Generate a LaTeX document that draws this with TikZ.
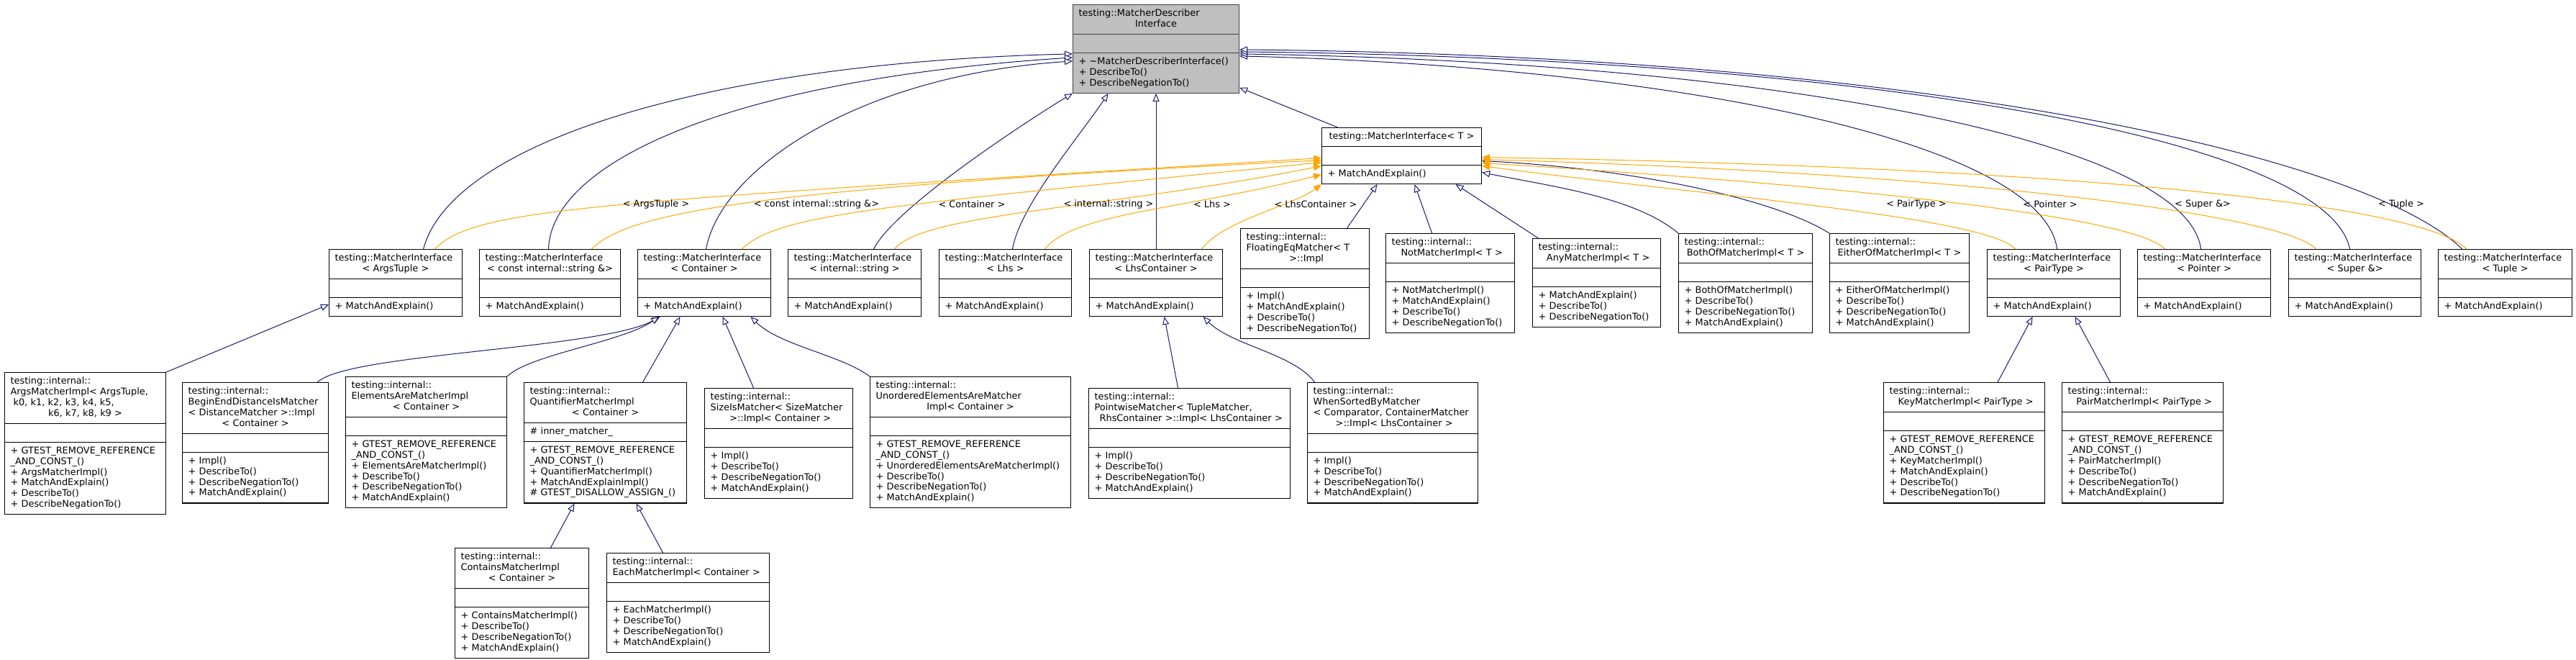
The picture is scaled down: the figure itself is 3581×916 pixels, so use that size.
\documentclass[tikz,border=0pt]{standalone}
\usepackage{fontspec}
\usepackage{xcolor}
\usepackage{tikz}
\usetikzlibrary{arrows.meta,shapes.multipart}

\newfontfamily\dxfont{DejaVu Sans}
\newcommand\clsfont{\dxfont\fontsize{12.9}{14.9}\selectfont\parindent=0pt\hyphenpenalty=10000\relax}
\newcommand\cl[1]{\makebox[\hsize]{#1}}
\definecolor{edgeblue}{RGB}{25,25,112}
\definecolor{tmplorange}{RGB}{255,165,0}
\definecolor{rootgray}{RGB}{191,191,191}
\definecolor{rootline}{RGB}{64,64,64}

\begin{document}
\begin{tikzpicture}[x=1pt, y=-1pt,
  cls/.style={rectangle split, rectangle split parts=3, draw=black,
              line width=1.1pt, fill=white, inner xsep=8pt, inner ysep=5pt,
              align=left, anchor=north west, font=\clsfont},
  rootcls/.style={cls, draw=rootline, fill=rootgray},
  inh/.style={-{Triangle[fill=white, length=11pt, width=9pt]}, draw=edgeblue,
              line width=1pt},
  tmpl/.style={-{Triangle[length=11pt, width=9pt]}, draw=tmplorange,
               line width=1pt},
  lbl/.style={font=\clsfont, inner sep=0pt},
]
  \useasboundingbox (0,0) rectangle (3581,916);

  % Base
  \node[rootcls, text width=215pt] (root) at (1491,6)
    {\strut testing::MatcherDescriber\\\cl{Interface}\strut
     \nodepart{two}\strut
     \nodepart{three}\strut + \textasciitilde MatcherDescriberInterface()\\+ DescribeTo()\\+ DescribeNegationTo()\strut};
  \node[cls, text width=206pt] (mit) at (1837,177)
    {\strut\cl{testing::MatcherInterface< T >}\strut
     \nodepart{two}\strut
     \nodepart{three}\strut + MatchAndExplain()\strut};

  % MatcherInterface instances
  \node[cls, text width=169pt] (miargs) at (457,346)
    {\strut testing::MatcherInterface\\\cl{< ArgsTuple >}\strut
     \nodepart{two}\strut \nodepart{three}\strut + MatchAndExplain()\strut};
  \node[cls, text width=180pt] (miconststr) at (666,346)
    {\strut testing::MatcherInterface\\\cl{< const internal::string \&>}\strut
     \nodepart{two}\strut \nodepart{three}\strut + MatchAndExplain()\strut};
  \node[cls, text width=169pt] (micont) at (886,346)
    {\strut testing::MatcherInterface\\\cl{< Container >}\strut
     \nodepart{two}\strut \nodepart{three}\strut + MatchAndExplain()\strut};
  \node[cls, text width=169pt] (mistr) at (1095,346)
    {\strut testing::MatcherInterface\\\cl{< internal::string >}\strut
     \nodepart{two}\strut \nodepart{three}\strut + MatchAndExplain()\strut};
  \node[cls, text width=168pt] (milhs) at (1305,346)
    {\strut testing::MatcherInterface\\\cl{< Lhs >}\strut
     \nodepart{two}\strut \nodepart{three}\strut + MatchAndExplain()\strut};
  \node[cls, text width=169pt] (milhsc) at (1514,346)
    {\strut testing::MatcherInterface\\\cl{< LhsContainer >}\strut
     \nodepart{two}\strut \nodepart{three}\strut + MatchAndExplain()\strut};
  \node[cls, text width=169pt] (mipair) at (2762,346)
    {\strut testing::MatcherInterface\\\cl{< PairType >}\strut
     \nodepart{two}\strut \nodepart{three}\strut + MatchAndExplain()\strut};
  \node[cls, text width=169pt] (miptr) at (2971,346)
    {\strut testing::MatcherInterface\\\cl{< Pointer >}\strut
     \nodepart{two}\strut \nodepart{three}\strut + MatchAndExplain()\strut};
  \node[cls, text width=168pt] (misuper) at (3181,346)
    {\strut testing::MatcherInterface\\\cl{< Super \&>}\strut
     \nodepart{two}\strut \nodepart{three}\strut + MatchAndExplain()\strut};
  \node[cls, text width=170pt] (mituple) at (3389,346)
    {\strut testing::MatcherInterface\\\cl{< Tuple >}\strut
     \nodepart{two}\strut \nodepart{three}\strut + MatchAndExplain()\strut};

  % Direct implementations
  \node[cls, text width=163pt] (floateq) at (1724,317)
    {\strut testing::internal::\\FloatingEqMatcher< T\\\cl{ >::Impl}\strut
     \nodepart{two}\strut
     \nodepart{three}\strut + Impl()\\+ MatchAndExplain()\\+ DescribeTo()\\+ DescribeNegationTo()\strut};
  \node[cls, text width=163pt] (notm) at (1926,324)
    {\strut testing::internal::\\\cl{ NotMatcherImpl< T >}\strut
     \nodepart{two}\strut
     \nodepart{three}\strut + NotMatcherImpl()\\+ MatchAndExplain()\\+ DescribeTo()\\+ DescribeNegationTo()\strut};
  \node[cls, text width=162pt] (anym) at (2130,331)
    {\strut testing::internal::\\\cl{ AnyMatcherImpl< T >}\strut
     \nodepart{two}\strut
     \nodepart{three}\strut + MatchAndExplain()\\+ DescribeTo()\\+ DescribeNegationTo()\strut};
  \node[cls, text width=170pt] (bothm) at (2333,324)
    {\strut testing::internal::\\\cl{BothOfMatcherImpl< T >}\strut
     \nodepart{two}\strut
     \nodepart{three}\strut + BothOfMatcherImpl()\\+ DescribeTo()\\+ DescribeNegationTo()\\+ MatchAndExplain()\strut};
  \node[cls, text width=178pt] (eitherm) at (2543,324)
    {\strut testing::internal::\\\cl{EitherOfMatcherImpl< T >}\strut
     \nodepart{two}\strut
     \nodepart{three}\strut + EitherOfMatcherImpl()\\+ DescribeTo()\\+ DescribeNegationTo()\\+ MatchAndExplain()\strut};

  % Lower row
  \node[cls, text width=208pt] (argsm) at (6,517)
    {\strut testing::internal::\\ArgsMatcherImpl< ArgsTuple,\\\hspace*{4pt}k0, k1, k2, k3, k4, k5,\\\cl{k6, k7, k8, k9 >}\strut
     \nodepart{two}\strut
     \nodepart{three}\strut + GTEST\_REMOVE\_REFERENCE\\\_AND\_CONST\_()\\+ ArgsMatcherImpl()\\+ MatchAndExplain()\\+ DescribeTo()\\+ DescribeNegationTo()\strut};
  \node[cls, text width=187pt] (beginend) at (253,531)
    {\strut testing::internal::\\BeginEndDistanceIsMatcher\\< DistanceMatcher >::Impl\\\cl{< Container >}\strut
     \nodepart{two}\strut
     \nodepart{three}\strut + Impl()\\+ DescribeTo()\\+ DescribeNegationTo()\\+ MatchAndExplain()\strut};
  \node[cls, text width=208pt] (elemsare) at (480,523)
    {\strut testing::internal::\\ElementsAreMatcherImpl\\\cl{< Container >}\strut
     \nodepart{two}\strut
     \nodepart{three}\strut + GTEST\_REMOVE\_REFERENCE\\\_AND\_CONST\_()\\+ ElementsAreMatcherImpl()\\+ DescribeTo()\\+ DescribeNegationTo()\\+ MatchAndExplain()\strut};
  \node[cls, text width=210pt] (quant) at (728,531)
    {\strut testing::internal::\\QuantifierMatcherImpl\\\cl{< Container >}\strut
     \nodepart{two}\strut \# inner\_matcher\_\strut
     \nodepart{three}\strut + GTEST\_REMOVE\_REFERENCE\\\_AND\_CONST\_()\\+ QuantifierMatcherImpl()\\+ MatchAndExplainImpl()\\\# GTEST\_DISALLOW\_ASSIGN\_()\strut};
  \node[cls, text width=190pt] (sizeis) at (979,539)
    {\strut testing::internal::\\SizeIsMatcher< SizeMatcher\\\cl{ >::Impl< Container >}\strut
     \nodepart{two}\strut
     \nodepart{three}\strut + Impl()\\+ DescribeTo()\\+ DescribeNegationTo()\\+ MatchAndExplain()\strut};
  \node[cls, text width=263pt] (unordered) at (1209,523)
    {\strut testing::internal::\\UnorderedElementsAreMatcher\\\cl{Impl< Container >}\strut
     \nodepart{two}\strut
     \nodepart{three}\strut + GTEST\_REMOVE\_REFERENCE\\\_AND\_CONST\_()\\+ UnorderedElementsAreMatcherImpl()\\+ DescribeTo()\\+ DescribeNegationTo()\\+ MatchAndExplain()\strut};
  \node[cls, text width=264pt] (pointwise) at (1513,539)
    {\strut testing::internal::\\PointwiseMatcher< TupleMatcher,\\\cl{ RhsContainer >::Impl< LhsContainer >}\strut
     \nodepart{two}\strut
     \nodepart{three}\strut + Impl()\\+ DescribeTo()\\+ DescribeNegationTo()\\+ MatchAndExplain()\strut};
  \node[cls, text width=221pt] (whensorted) at (1817,531)
    {\strut testing::internal::\\WhenSortedByMatcher\\< Comparator, ContainerMatcher\\\cl{ >::Impl< LhsContainer >}\strut
     \nodepart{two}\strut
     \nodepart{three}\strut + Impl()\\+ DescribeTo()\\+ DescribeNegationTo()\\+ MatchAndExplain()\strut};
  \node[cls, text width=208pt] (keym) at (2618,531)
    {\strut testing::internal::\\\cl{ KeyMatcherImpl< PairType >}\strut
     \nodepart{two}\strut
     \nodepart{three}\strut + GTEST\_REMOVE\_REFERENCE\\\_AND\_CONST\_()\\+ KeyMatcherImpl()\\+ MatchAndExplain()\\+ DescribeTo()\\+ DescribeNegationTo()\strut};
  \node[cls, text width=208pt] (pairm) at (2866,531)
    {\strut testing::internal::\\\cl{ PairMatcherImpl< PairType >}\strut
     \nodepart{two}\strut
     \nodepart{three}\strut + GTEST\_REMOVE\_REFERENCE\\\_AND\_CONST\_()\\+ PairMatcherImpl()\\+ DescribeTo()\\+ DescribeNegationTo()\\+ MatchAndExplain()\strut};

  % Quantifier subclasses
  \node[cls, text width=170pt] (contains) at (632,761)
    {\strut testing::internal::\\ContainsMatcherImpl\\\cl{< Container >}\strut
     \nodepart{two}\strut
     \nodepart{three}\strut + ContainsMatcherImpl()\\+ DescribeTo()\\+ DescribeNegationTo()\\+ MatchAndExplain()\strut};
  \node[cls, text width=210pt] (eachm) at (843,768)
    {\strut testing::internal::\\EachMatcherImpl< Container >\strut
     \nodepart{two}\strut
     \nodepart{three}\strut + EachMatcherImpl()\\+ DescribeTo()\\+ DescribeNegationTo()\\+ MatchAndExplain()\strut};

  % Inheritance to base
  \draw[inh] ([xshift=38.5pt]miargs.north) .. controls +(40,-150) and +(-500,12) .. ([yshift=-7pt]root.west);
  \draw[inh] ([xshift=-2pt]miconststr.north) .. controls +(3,-116) and +(-491,32) .. ([yshift=-12pt]root.west);
  \draw[inh] ([xshift=2.5pt]micont.north) .. controls +(20,-110) and +(-300,20) .. ([yshift=-17pt]root.west);
  \draw[inh] ([xshift=26.5pt]mistr.north) .. controls +(30,-60) and +(-50,30) .. (root.south west);
  \draw[inh] ([xshift=10pt]milhs.north) .. controls +(10,-60) and +(-40,60) .. ([xshift=-66.5pt]root.south);
  \draw[inh] (milhsc.north) -- (root.south);
  \draw[inh] ([xshift=-89pt]mit.north) -- ([yshift=8pt]root.south east);
  \draw[inh] ([xshift=4.5pt]mipair.north) .. controls +(-20,-150) and +(600,15) .. ([yshift=-10pt]root.east);
  \draw[inh] ([xshift=-4.5pt]miptr.north) .. controls +(-20,-150) and +(750,12) .. ([yshift=-7pt]root.east);
  \draw[inh] ([xshift=-7pt]misuper.north) .. controls +(-30,-150) and +(900,10) .. ([yshift=-4pt]root.east);
  \draw[inh] ([xshift=-60pt]mituple.north) .. controls +(-120,-120) and +(1000,10) .. ([yshift=-1pt]root.east);

  % Inheritance to MatcherInterface< T >
  \draw[inh] ([xshift=58.5pt]floateq.north) -- ([xshift=-34pt]mit.south);
  \draw[inh] ([xshift=-25.5pt]notm.north) -- ([xshift=18pt]mit.south);
  \draw[inh] ([xshift=-81pt]anym.north) -- ([xshift=75pt]mit.south);
  \draw[inh] (bothm.north west) .. controls +(-60,-50) and +(100,20) .. ([yshift=-23pt]mit.east);
  \draw[inh] (eitherm.north west) .. controls +(-80,-50) and +(200,10) .. ([yshift=-7pt]mit.east);

  % Inheritance to instances
  \draw[inh] (argsm.north east) -- ([yshift=-30pt]miargs.west);
  \draw[inh] ([xshift=86.5pt]beginend.north) .. controls +(40,-40) and +(-80,45) .. ([xshift=-61.5pt]micont.south);
  \draw[inh] (elemsare.north east) .. controls +(30,-30) and +(-50,35) .. ([xshift=-63pt]micont.south);
  \draw[inh] ([xshift=52pt]quant.north) -- ([xshift=-33.5pt]micont.south);
  \draw[inh] ([xshift=-35pt]sizeis.north) -- ([xshift=25.5pt]micont.south);
  \draw[inh] (unordered.north west) .. controls +(-40,-30) and +(40,40) .. ([xshift=64.5pt]micont.south);
  \draw[inh] ([xshift=-16pt]pointwise.north) -- ([xshift=11.5pt]milhsc.south);
  \draw[inh] ([xshift=-108.5pt]whensorted.north) .. controls +(-30,-40) and +(40,40) .. ([xshift=65.5pt]milhsc.south);
  \draw[inh] ([xshift=46.5pt]keym.north) -- ([xshift=-29.5pt]mipair.south);
  \draw[inh] ([xshift=-45pt]pairm.north) -- ([xshift=29.5pt]mipair.south);
  \draw[inh] ([xshift=40pt]contains.north) -- ([xshift=-43pt]quant.south);
  \draw[inh] ([xshift=-35pt]eachm.north) -- ([xshift=43pt]quant.south);

  % Template instances
  \draw[tmpl] ([xshift=54.5pt]miargs.north) .. controls +(56,-56) and +(-1037,63) .. ([yshift=-3pt]mit.west);
  \draw[tmpl] ([xshift=58pt]miconststr.north) .. controls +(50,-50) and +(-800,40) .. ([yshift=-6pt]mit.west);
  \draw[tmpl] ([xshift=52.5pt]micont.north) .. controls +(50,-50) and +(-600,60) .. ([yshift=-9pt]mit.west);
  \draw[tmpl] ([xshift=55.5pt]mistr.north) .. controls +(40,-50) and +(-300,60) .. ([yshift=-14pt]mit.west);
  \draw[tmpl] ([xshift=55pt]milhs.north) .. controls +(40,-50) and +(-200,50) .. ([yshift=-26pt]mit.west);
  \draw[tmpl] ([xshift=63.5pt]milhsc.north) .. controls +(30,-40) and +(-40,30) .. (mit.south west);
  \draw[tmpl] ([xshift=-53.5pt]mipair.north) .. controls +(-40,-45) and +(300,40) .. ([yshift=-14pt]mit.east);
  \draw[tmpl] ([xshift=-54.5pt]miptr.north) .. controls +(-40,-45) and +(500,30) .. ([yshift=-10pt]mit.east);
  \draw[tmpl] ([xshift=-54pt]misuper.north) .. controls +(-40,-45) and +(700,20) .. ([yshift=-5pt]mit.east);
  \draw[tmpl] ([xshift=-54pt]mituple.north) .. controls +(-50,-55) and +(900,15) .. ([yshift=-2pt]mit.east);

  % Template labels
  \node[lbl] (largs) at (912,284) {< ArgsTuple >};
  \node[lbl] (lconststr) at (1135,284) {< const internal::string \&>};
  \node[lbl] (lcont) at (1351,284) {< Container >};
  \node[lbl] (lstr) at (1541,284) {< internal::string >};
  \node[lbl] (llhs) at (1685,284) {< Lhs >};
  \node[lbl] (llhsc) at (1829,284) {< LhsContainer >};
  \node[lbl] (lpair) at (2664,284) {< PairType >};
  \node[lbl] (lptr) at (2850,284) {< Pointer >};
  \node[lbl] (lsuper) at (3062,284) {< Super \&>};
  \node[lbl] (ltuple) at (3338,284) {< Tuple >};
\end{tikzpicture}
\end{document}
